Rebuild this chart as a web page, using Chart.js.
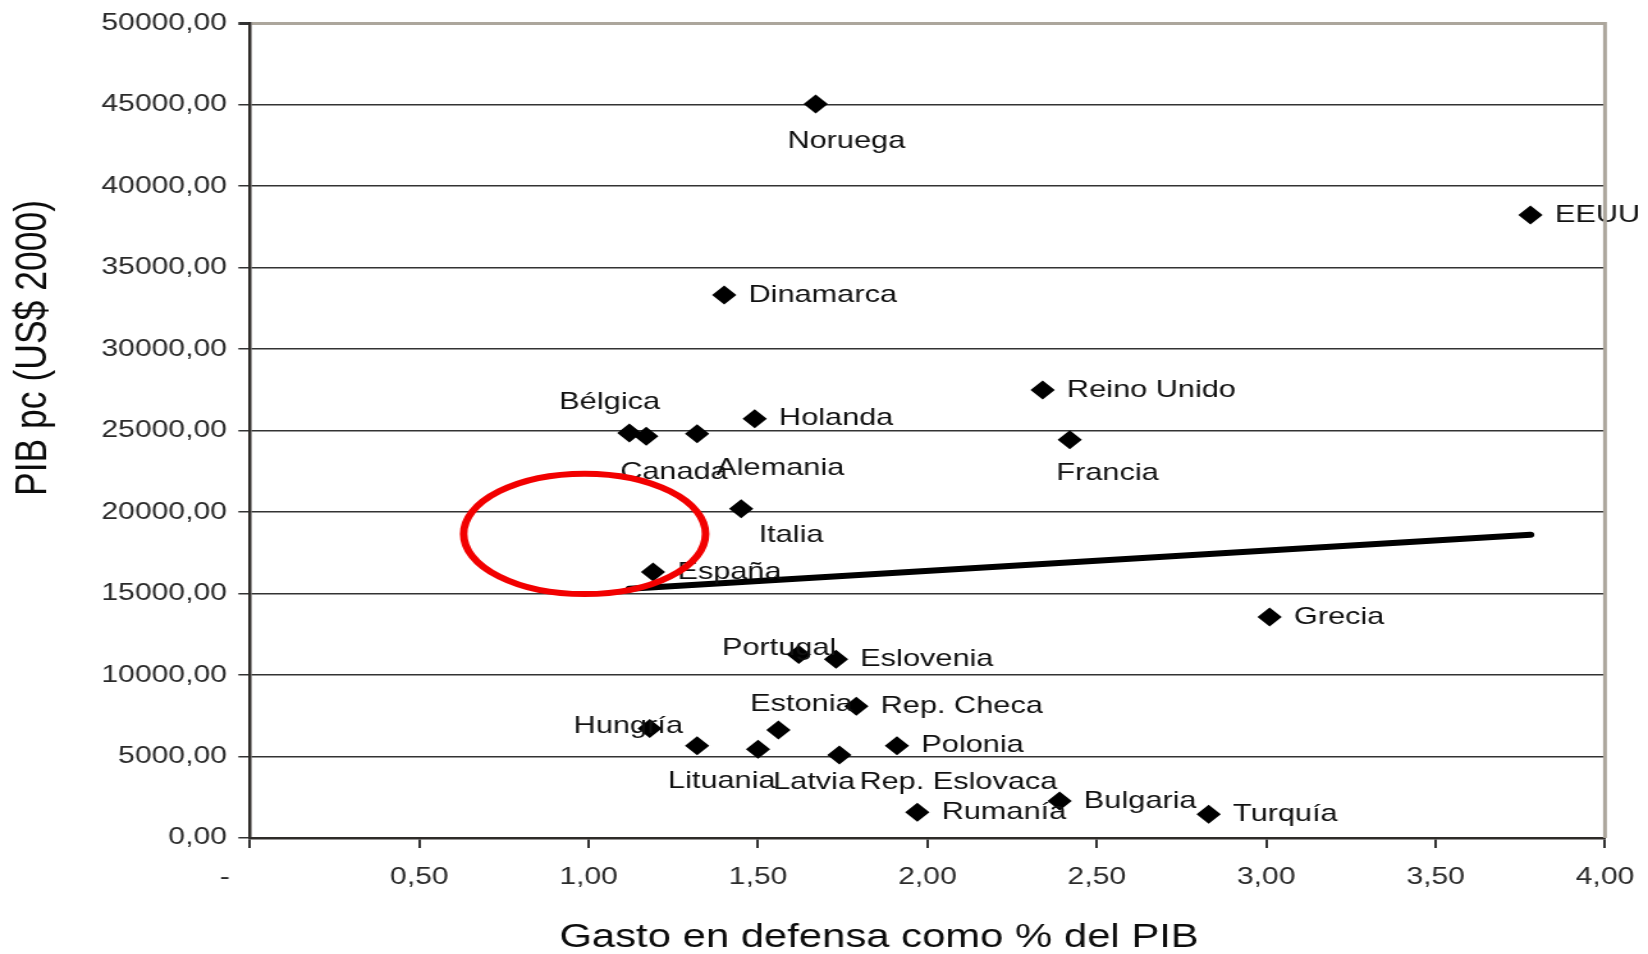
<!DOCTYPE html>
<html>
<head>
<meta charset="utf-8">
<script src="https://cdn.jsdelivr.net/npm/chart.js@4.4.0/dist/chart.umd.min.js"></script>
<style>
  html, body { margin: 0; padding: 0; background: #fff; overflow: hidden; }
  /* the source picture is a chart stretched sideways, so draw narrow and stretch */
  #wrap { width: 1288px; height: 954px; transform: scaleX(1.2795); transform-origin: 0 0; }
</style>
</head>
<body>
<div id="wrap"><canvas id="chart"></canvas></div>
<script>
const countries = ['Noruega', 'EEUU', 'Dinamarca', 'Reino Unido', 'Francia', 'Holanda', 'Bélgica', 'Canada',
    'Alemania', 'Italia', 'España', 'Grecia', 'Portugal', 'Eslovenia', 'Rep. Checa', 'Estonia', 'Hungría',
    'Lituania', 'Latvia', 'Rep. Eslovaca', 'Polonia', 'Rumanía', 'Bulgaria', 'Turquía'];
const defenseSpending = [1.67, 3.78, 1.40, 2.34, 2.42, 1.49, 1.12, 1.17, 1.32, 1.45, 1.19, 3.01,
    1.62, 1.73, 1.79, 1.56, 1.18, 1.32, 1.50, 1.74, 1.91, 1.97, 2.39, 2.83];
const gdpPerCapita = [45040, 38220, 33320, 27490, 24430, 25720, 24850, 24650, 24800, 20200, 16320, 13560,
    11260, 10970, 8090, 6620, 6720, 5660, 5440, 5090, 5660, 1580, 2270, 1450];

const trendX = [1.12, 3.78];
const trendY = [15300, 18610];

// red ellipse drawn over the chart (centre and radii in data units)
const circleCenter = [0.988, 18660];
const circleRadius = [0.357, 3695];

const xTickLabels = ['-      ', '0,50', '1,00', '1,50', '2,00', '2,50', '3,00', '3,50', '4,00'];
const yTickLabels = ['0,00', '5000,00', '10000,00', '15000,00', '20000,00', '25000,00',
    '30000,00', '35000,00', '40000,00', '45000,00', '50000,00'];

// where each label sits relative to its point (px); anything not listed goes to the right
const labelOffsets = {
    'Noruega': [24, 37], 'Francia': [29.5, 34], 'Bélgica': [-15.4, -31], 'Canada': [21.6, 36],
    'Alemania': [65, 35], 'Italia': [39, 27], 'Portugal': [-15.3, -6.6], 'Estonia': [18, -26],
    'Hungría': [-16.7, -2.3], 'Lituania': [19.3, 36], 'Latvia': [43.8, 33.4], 'Rep. Eslovaca': [93, 27.3]
};

const FONT = '"Liberation Sans", Arial, sans-serif';
const frameGrey = '#aca69c';

const extras = {
    id: 'extras',
    afterDatasetsDraw(chart) {
        const ctx = chart.ctx;
        const meta = chart.getDatasetMeta(0);
        ctx.save();
        ctx.font = '24px ' + FONT;
        ctx.fillStyle = '#111';
        ctx.textBaseline = 'middle';
        meta.data.forEach((pt, i) => {
            const name = countries[i];
            const off = labelOffsets[name];
            if (off) {
                ctx.textAlign = 'center';
                ctx.fillText(name, pt.x + off[0], pt.y + off[1]);
            } else {
                ctx.textAlign = 'left';
                ctx.fillText(name, pt.x + 19, pt.y);
            }
        });
        ctx.restore();
    },
    afterDraw(chart) {
        const ctx = chart.ctx;
        const area = chart.chartArea;
        const xs = chart.scales.x, ys = chart.scales.y;
        ctx.save();

        // grey right frame
        ctx.strokeStyle = frameGrey;
        ctx.lineWidth = 3;
        ctx.beginPath();
        ctx.moveTo(area.right, area.top - 1);
        ctx.lineTo(area.right, area.bottom);
        ctx.stroke();

        // red ellipse
        const cx = xs.getPixelForValue(circleCenter[0]);
        const cy = ys.getPixelForValue(circleCenter[1]);
        const rx = xs.getPixelForValue(circleCenter[0] + circleRadius[0]) - cx;
        const ry = cy - ys.getPixelForValue(circleCenter[1] + circleRadius[1]);
        ctx.strokeStyle = '#f20000';
        ctx.lineWidth = 6;
        ctx.beginPath();
        ctx.ellipse(cx, cy, rx, ry, 0, 0, Math.PI * 2);
        ctx.stroke();

        // axis titles
        ctx.fillStyle = '#0c0c0c';
        ctx.font = '32.7px ' + FONT;
        ctx.textAlign = 'center';
        ctx.textBaseline = 'alphabetic';
        ctx.fillText('Gasto en defensa como % del PIB', 687, 947);

        ctx.translate(26, 348);
        ctx.rotate(-Math.PI / 2);
        ctx.font = '35.5px ' + FONT;
        ctx.textBaseline = 'middle';
        ctx.fillText('PIB pc (US$ 2000)', 0, 0);
        ctx.restore();
    }
};

const points = defenseSpending.map((x, i) => ({ x: x, y: gdpPerCapita[i] }));
const trend = trendX.map((x, i) => ({ x: x, y: trendY[i] }));

new Chart(document.getElementById('chart'), {
    type: 'scatter',
    data: {
        datasets: [{
            label: 'Países',
            data: points,
            pointStyle: 'rectRot',
            pointRadius: 9.5,
            backgroundColor: '#000',
            borderWidth: 0
        }, {
            type: 'line',
            label: 'Tendencia',
            data: trend,
            borderColor: '#000',
            borderWidth: 6,
            borderCapStyle: 'round',
            pointRadius: 0,
            fill: false
        }]
    },
    options: {
        responsive: true,
        maintainAspectRatio: false,
        animation: false,
        events: [],
        layout: { padding: { top: 21, right: 33.6, bottom: 0, left: 0 } },
        plugins: {
            legend: { display: false },
            tooltip: { enabled: false }
        },
        scales: {
            x: {
                type: 'linear',
                min: 0,
                max: 4,
                ticks: {
                    stepSize: 0.5,
                    autoSkip: false,
                    maxRotation: 0,
                    padding: 15,
                    color: '#2a2a2a',
                    font: { family: FONT, size: 23.5 },
                    callback: (v, i) => xTickLabels[i]
                },
                grid: { drawOnChartArea: false, drawTicks: true, tickLength: 10, color: '#333', lineWidth: 2 },
                border: { display: true, color: '#2e2b28', width: 2.5 },
                afterFit: s => {
                    s.height = 116;
                    // let the layout padding alone decide the plot's right edge
                    s.paddingLeft = 0;
                    s.paddingRight = 0;
                }
            },
            y: {
                min: 0,
                max: 50000,
                ticks: {
                    stepSize: 5000,
                    padding: 9,
                    color: '#2a2a2a',
                    font: { family: FONT, size: 23.5 },
                    callback: (v, i) => yTickLabels[i]
                },
                grid: {
                    tickLength: 9,
                    tickColor: '#333',
                    color: c => (c.tick && c.tick.value === 50000 ? frameGrey : '#333'),
                    lineWidth: c => (c.tick && c.tick.value === 50000 ? 3 : 1.5)
                },
                border: { display: true, color: '#2e2b28', width: 2.5 },
                afterFit: s => { s.width = 195.3; }
            }
        }
    },
    plugins: [extras]
});
</script>
</body>
</html>
